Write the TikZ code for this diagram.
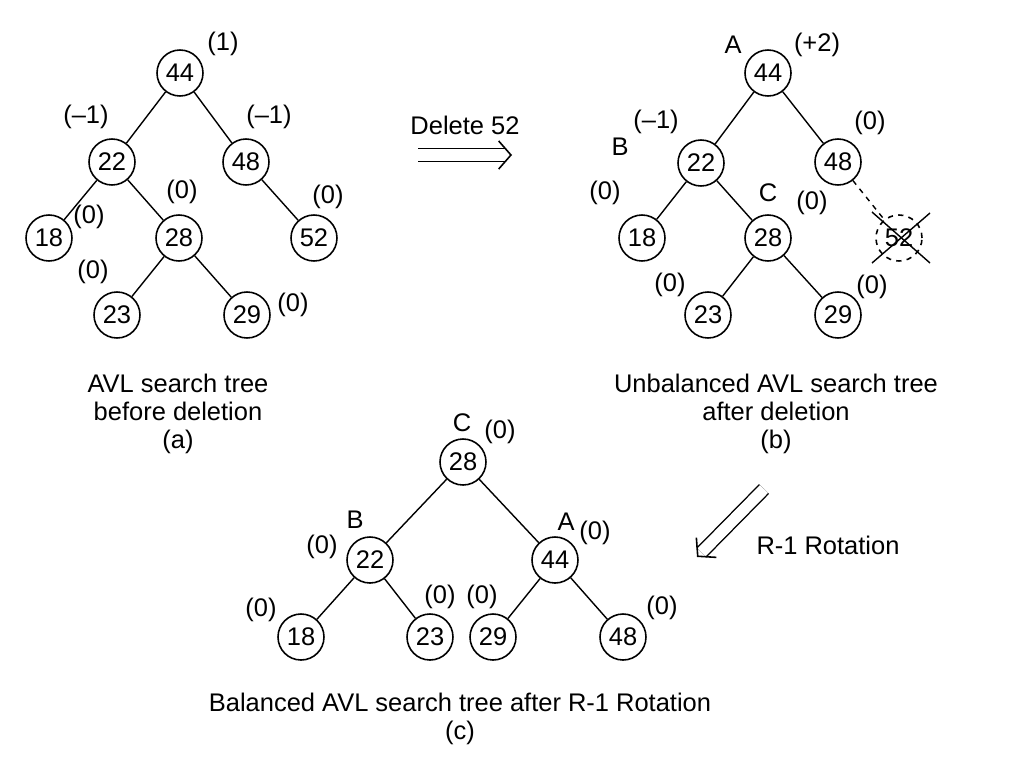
\documentclass[tikz,border=0pt]{standalone}
\usepackage{fontspec}
\setmainfont{Liberation Sans}
\usetikzlibrary{arrows.meta,calc}
\begin{document}
\begin{tikzpicture}[x=0.02cm,y=-0.02cm,line width=0.8pt,font=\fontsize{14.5}{16}\selectfont,
  key/.style={draw,circle,line width=0.9pt,minimum size=0.92cm,inner sep=0pt},
  twin/.style={double,double distance=6.4pt,line width=0.8pt},
  headtip/.style={line width=0.9pt,-{Straight Barb[length=7pt,width=16pt]}}]
\useasboundingbox (0,0) rectangle (1024,768);
% tree (a)
\node[key] (a44) at (180,73) {44};
\node[key] (a22) at (112,162) {22};
\node[key] (a48) at (246,162) {48};
\node[key] (a18) at (49,238) {18};
\node[key] (a28) at (179,238) {28};
\node[key] (a52) at (314,238) {52};
\node[key] (a23) at (117,315) {23};
\node[key] (a29) at (247,315) {29};
\draw (a44) -- (a22);
\draw (a44) -- (a48);
\draw (a22) -- (a18);
\draw (a22) -- (a28);
\draw (a48) -- (a52);
\draw (a28) -- (a23);
\draw (a28) -- (a29);
\node (fa44) at (223,44) {(1)};
\node (fa22) at (86,117) {(–1)};
\node (fa48) at (269,117) {(–1)};
\node (fa28) at (182,192) {(0)};
\node (fa52) at (328,197) {(0)};
\node (fa18) at (89,217) {(0)};
\node (fa23) at (93,272) {(0)};
\node (fa29) at (293,305) {(0)};
\node[align=center] (capa) at (178,414) {AVL search tree\\before deletion\\(a)};
% delete arrow
\node (del) at (465,125) {Delete 52};
\coordinate (d1) at (418,155);
\coordinate (d2) at (512,155);
\draw[twin] (d1) -- ($(d2)!3.6pt!(d1)$);
\draw[headtip] ($(d2)!1pt!(d1)$) -- (d2);
% tree (b)
\node[key] (b44) at (768,73) {44};
\node[key] (b22) at (701,163) {22};
\node[key] (b48) at (838,162) {48};
\node[key] (b18) at (642,238) {18};
\node[key] (b28) at (768,238) {28};
\node[key,dashed] (b52) at (899,238) {52};
\node[key] (b23) at (708,315) {23};
\node[key] (b29) at (838,315) {29};
\draw (b44) -- (b22);
\draw (b44) -- (b48);
\draw (b22) -- (b18);
\draw (b22) -- (b28);
\draw[dashed] (b48) -- (b52);
\draw (b28) -- (b23);
\draw (b28) -- (b29);
\draw ([shift={(-27,-26)}]b52.center) -- ([shift={(31,25)}]b52.center);
\draw ([shift={(31,-25)}]b52.center) -- ([shift={(-27,25)}]b52.center);
\node (nA) at (733,45) {A};
\node (fb44) at (817,45) {(+2)};
\node (nB) at (620,147) {B};
\node (fb22) at (656,122) {(–1)};
\node (fb48) at (870,123) {(0)};
\node (fb18) at (605,193) {(0)};
\node (nC) at (768,193) {C};
\node (fb28) at (812,203) {(0)};
\node (fb23) at (670,285) {(0)};
\node (fb29) at (872,287) {(0)};
\node[align=center] (capb) at (776,414) {Unbalanced AVL search tree\\after deletion\\(b)};
% rotation arrow
\coordinate (r1) at (764,489);
\coordinate (r2) at (697,557);
\draw[twin] (r1) -- ($(r2)!3.6pt!(r1)$);
\draw[headtip] ($(r2)!1pt!(r1)$) -- (r2);
\node (rot) at (828,545) {R-1 Rotation};
% tree (c)
\node[key] (c28) at (463,462) {28};
\node[key] (c22) at (370,560) {22};
\node[key] (c44) at (555,560) {44};
\node[key] (c18) at (301,637) {18};
\node[key] (c23) at (430,637) {23};
\node[key] (c29) at (493,637) {29};
\node[key] (c48) at (623,637) {48};
\draw (c28) -- (c22);
\draw (c28) -- (c44);
\draw (c22) -- (c18);
\draw (c22) -- (c23);
\draw (c44) -- (c29);
\draw (c44) -- (c48);
\node (mC) at (462,423) {C};
\node (fc28) at (500,432) {(0)};
\node (mB) at (355,520) {B};
\node (fc22) at (322,547) {(0)};
\node (mA) at (566,522) {A};
\node (fc44) at (595,533) {(0)};
\node (fc18) at (261,610) {(0)};
\node (fc23) at (440,597) {(0)};
\node (fc29) at (482,597) {(0)};
\node (fc48) at (662,608) {(0)};
\node[align=center] (capc) at (460,719) {Balanced AVL search tree after R-1 Rotation\\(c)};
\end{tikzpicture}
\end{document}
